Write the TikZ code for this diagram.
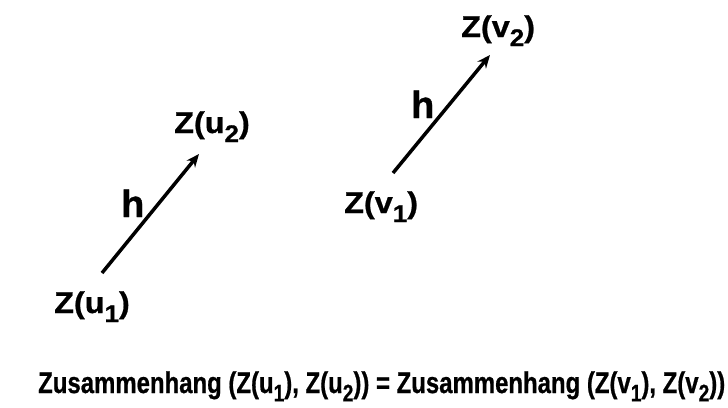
\documentclass[tikz,border=0pt]{standalone}
\usepackage{fontspec}
\setmainfont{Liberation Sans}[BoldFeatures={FakeBold=0.8}]
\usetikzlibrary{arrows.meta}
\newcommand{\sbs}[1]{\raisebox{-9pt}{\fontsize{24pt}{24pt}\selectfont #1}}
\newcommand{\sbsb}[1]{\raisebox{-7pt}{\fontsize{20pt}{20pt}\selectfont #1}}
\newcommand{\bigf}{\fontsize{30pt}{32pt}\selectfont\bfseries}
\newcommand{\hf}{\fontsize{38pt}{40pt}\selectfont\bfseries}
\newcommand{\zl}[1]{\scalebox{1.08}[1]{\bigf #1}}
\tikzset{
  lbl/.style={inner sep=0pt, anchor=base west},
  arr/.style={line width=3.5pt, -{Stealth[length=13pt,width=11pt]}}
}
\begin{document}
\begin{tikzpicture}[x=1pt,y=-1pt]
\useasboundingbox[fill=white] (0,0) rectangle (728,407);
\node[lbl] (u2) at (174,133) {\zl{Z(u\sbs{2})}};
\node[lbl] (u1) at (54,313) {\zl{Z(u\sbs{1})}};
\node[lbl] (hu) at (121,217) {\hf h};
\node[lbl] (v2) at (461,37) {\zl{Z(v\sbs{2})}};
\node[lbl] (v1) at (344,213) {\zl{Z(v\sbs{1})}};
\node[lbl] (hv) at (411,118) {\hf h};
\coordinate (au1) at (102,273);
\coordinate (au2) at (199,154);
\coordinate (av1) at (393,173);
\coordinate (av2) at (490,55);
\draw[arr] (au1) -- (au2);
\draw[arr] (av1) -- (av2);
\node[lbl] (eq) at (38,393) {\resizebox{687pt}{!}{\scalebox{0.8}[1]{\fontsize{25pt}{27pt}\selectfont\bfseries Zusammenhang (Z(u\sbsb{1}), Z(u\sbsb{2})) = Zusammenhang (Z(v\sbsb{1}), Z(v\sbsb{2}))}}};
\end{tikzpicture}
\end{document}
